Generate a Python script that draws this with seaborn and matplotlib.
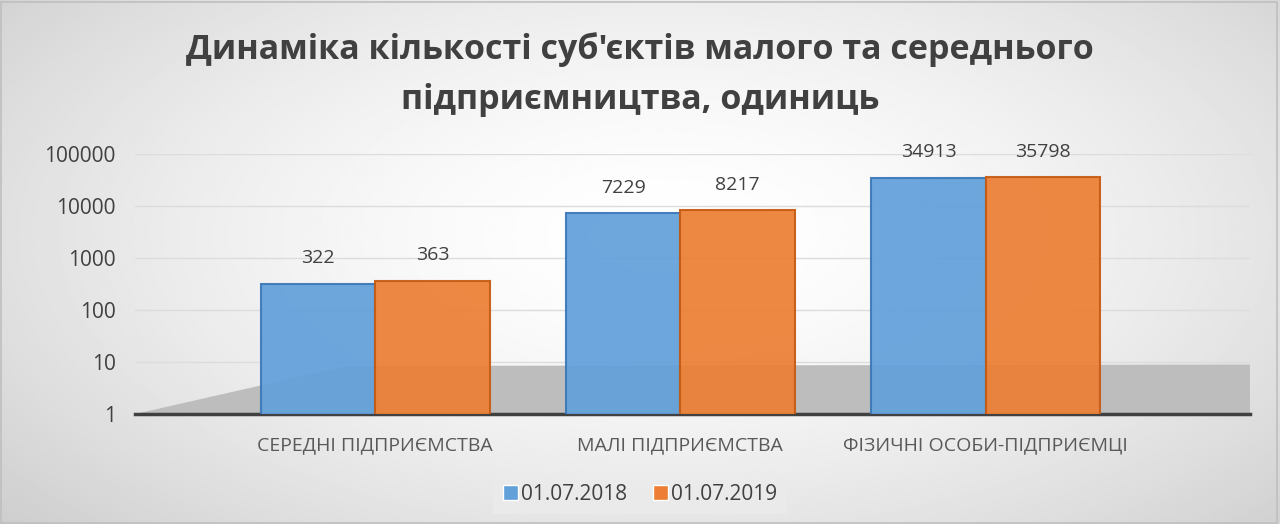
import numpy as np
import pandas as pd
import matplotlib
matplotlib.use("Agg")
import matplotlib.pyplot as plt
import seaborn as sns
from matplotlib.ticker import FixedLocator, FuncFormatter
from matplotlib.patches import Polygon

# ---- data ----
categories = ["СЕРЕДНІ ПІДПРИЄМСТВА", "МАЛІ ПІДПРИЄМСТВА", "ФІЗИЧНІ ОСОБИ-ПІДПРИЄМЦІ"]
series_names = ["01.07.2018", "01.07.2019"]
values_2018 = [322, 7229, 34913]
values_2019 = [363, 8217, 35798]
y_ticks = [1, 10, 100, 1000, 10000, 100000]
title = "Динаміка кількості суб'єктів малого та середнього\nпідприємництва, одиниць"

df = pd.DataFrame({
    "category": categories * 2,
    "series": [series_names[0]] * 3 + [series_names[1]] * 3,
    "value": values_2018 + values_2019,
})
series_values = {series_names[0]: values_2018, series_names[1]: values_2019}

sns.set_theme(style="white")
plt.rcParams["font.family"] = ["Open Sans", "DejaVu Sans"]

fig = plt.figure(figsize=(12.8, 5.24), dpi=100)

# background gradient
bg = fig.add_axes([0, 0, 1, 1], zorder=-10)
yy, xx = np.mgrid[0:1:300j, 0:1:700j]
d = np.sqrt(((xx - 0.52) / 0.75) ** 2 + ((yy - 0.45) / 0.9) ** 2)
shade = 1.0 - 0.22 * np.clip(d, 0, 1.2) ** 1.6
bg.imshow(shade, cmap="gray", vmin=0, vmax=1, aspect="auto", extent=[0, 1, 0, 1])
bg.set_axis_off()
bg.add_patch(plt.Rectangle((0.001, 0.002), 0.997, 0.995, fill=False,
                           edgecolor="#BFBFBF", lw=1.2, transform=bg.transAxes))

ax = fig.add_axes([0.1055, 0.2099, 0.871, 0.4962])
ax.patch.set_alpha(0)

# floor (3D impression)
floor = Polygon([(0.0, 0.0), (0.19, 0.185), (1.0, 0.19), (1.0, 0.0)], closed=True,
                facecolor="#BDBDBD", edgecolor="none", transform=ax.transAxes, zorder=0.5)
ax.add_patch(floor)

palette = {series_names[0]: "#62A0DA", series_names[1]: "#EC7F35"}
sns.barplot(data=df, x="category", y="value", hue="series", order=categories,
            hue_order=series_names, palette=palette, width=0.75, ax=ax,
            log_scale=(False, True), saturation=1, legend=True, zorder=3)

edge = {0: "#3A78B8", 1: "#C65A12"}
for i, cont in enumerate(ax.containers):
    for p in cont:
        p.set_edgecolor(edge[i])
        p.set_linewidth(1.5)
        p.set_alpha(0.93)
    ax.bar_label(cont, labels=[str(v) for v in series_values[series_names[i]]],
                 padding=12, fontsize=14, color="#404040")

ax.set_yscale("log")
ax.set_ylim(1, 100000)
ax.set_xlim(-0.787, 2.866)
ax.yaxis.set_major_locator(FixedLocator(y_ticks))
ax.yaxis.set_major_formatter(FuncFormatter(lambda v, p: f"{int(round(v))}"))
ax.yaxis.set_minor_locator(FixedLocator([]))
ax.tick_params(axis="y", length=0, pad=14, labelsize=15, labelcolor="#404040")
ax.tick_params(axis="x", length=0, pad=16, labelsize=14, labelcolor="#595959")
ax.grid(axis="y", color="#DCDCDC", lw=1, zorder=0)
ax.set_axisbelow(True)
ax.set_xlabel("")
ax.set_ylabel("")
for s in ["top", "right", "left"]:
    ax.spines[s].set_visible(False)
ax.spines["bottom"].set_color("#404040")
ax.spines["bottom"].set_linewidth(2.5)

leg = ax.legend(loc="center", bbox_to_anchor=(0.5, 0.057), bbox_transform=fig.transFigure,
                ncol=2, frameon=True, fontsize=15, handlelength=0.75, handleheight=0.75,
                handletextpad=0.15, columnspacing=1.2, borderpad=0.45)
leg.get_frame().set_facecolor("#EBEBEB")
leg.get_frame().set_edgecolor("none")
leg.get_frame().set_alpha(0.9)
for t in leg.get_texts():
    t.set_color("#404040")
for h in leg.legend_handles:
    h.set_alpha(1)

fig.text(0.5, 0.858, title, ha="center", va="center", fontsize=24.5, fontweight="bold",
         color="#404040", linespacing=1.6)

fig.savefig("out.png", dpi=100)
